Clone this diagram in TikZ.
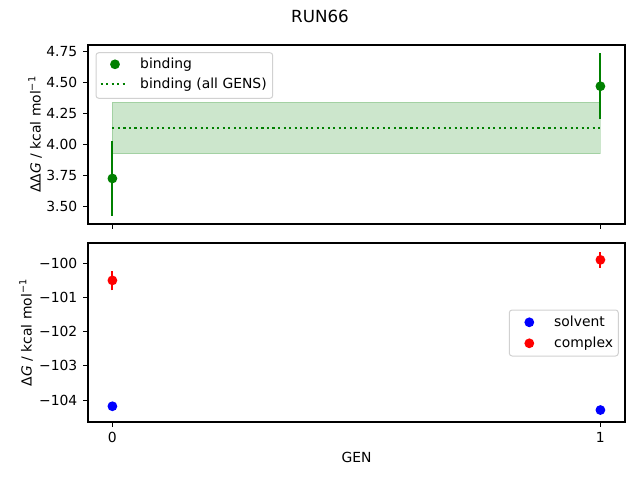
\documentclass[tikz,border=0pt]{standalone}
\usepackage{fontspec}
\setmainfont{DejaVu Sans}
\definecolor{mplgreen}{HTML}{008000}
\definecolor{mplred}{HTML}{FF0000}
\definecolor{mplblue}{HTML}{0000FF}

\begin{document}
\begin{tikzpicture}[x=1pt, y=1pt,
	every node/.style={inner sep=0pt, font=\fontsize{13.9}{16}\selectfont},
	frame/.style={line width=1.11pt},
	tick/.style={line width=1.11pt},
	errbar/.style={line width=2.08pt},
	dot/.style={circle, inner sep=0pt, minimum size=9.8pt},
	legbox/.style={rounded corners=2.8pt, draw=black!18, fill=white, fill opacity=0.8, line width=1pt},
	dotline/.style={line width=2.08pt, dash pattern=on 2.08pt off 3.44pt}]
	\useasboundingbox (0,0) rectangle (640,480);

	% title
	\node[anchor=base, font=\fontsize{16.7}{19}\selectfont] (title) at (320,457) {RUN66};

	% top panel: binding
	\begin{scope}[shift={(112.4pt,-160.5pt)}, x=488pt, y=124pt]
		\fill[mplgreen, opacity=0.2] (0,3.925) rectangle (1,4.34);
		\draw[mplgreen, opacity=0.2, line width=1pt] (0,3.925) rectangle (1,4.34);
		\coordinate (allL) at (0,4.13);
		\coordinate (allR) at (1,4.13);
		\draw[mplgreen, dotline] (allL) -- (allR);
		\coordinate (b0lo) at (0,3.426);
		\coordinate (b0hi) at (0,4.026);
		\coordinate (b1lo) at (1,4.205);
		\coordinate (b1hi) at (1,4.735);
		\draw[mplgreen, errbar] (b0lo) -- (b0hi);
		\draw[mplgreen, errbar] (b1lo) -- (b1hi);
		\node[dot, fill=mplgreen] (b0) at (0,3.726) {};
		\node[dot, fill=mplgreen] (b1) at (1,4.47) {};
		\foreach \v in {3.50,3.75,4.00,4.25,4.50,4.75} {
			\draw[tick] (-0.05,\v) -- ++(-4.86pt,0);
			\node[anchor=east] (yt\v) at ([xshift=-10.5pt]-0.05,\v) {\v};
		}
		\foreach \g in {0,1}
			\draw[tick] (\g,3.3589) -- ++(0,-4.86pt);
	\end{scope}
	\draw[frame] (88,256) rectangle (625,435);
	\node[rotate=90, anchor=south] (ylabA) at (42,345.5) {ΔΔ\textit{G} / kcal mol\textsuperscript{−1}};

	% top legend
	\draw[legbox] (96,381.7) rectangle (272.7,427.3);
	\node[dot, fill=mplgreen] (legb) at (115,415.7) {};
	\coordinate (legaL) at (100.5,395.7);
	\coordinate (legaR) at (128,395.7);
	\draw[mplgreen, dotline] (legaL) -- (legaR);
	\node[anchor=base west] (legbt) at (140,411.7) {binding};
	\node[anchor=base west] (legat) at (140,391.7) {binding (all GENS)};

	% bottom panel: solvent / complex
	\begin{scope}[shift={(112.4pt,216.7pt)}, x=488pt, y=34.2pt]
		\coordinate (c0lo) at (0,-0.79);
		\coordinate (c0hi) at (0,-0.22);
		\coordinate (c1lo) at (1,-0.13);
		\coordinate (c1hi) at (1,0.32);
		\draw[mplred, errbar] (c0lo) -- (c0hi);
		\draw[mplred, errbar] (c1lo) -- (c1hi);
		\node[dot, fill=mplred] (c0) at (0,-0.50) {};
		\node[dot, fill=mplred] (c1) at (1,0.10) {};
		\node[dot, fill=mplblue] (s0) at (0,-4.18) {};
		\node[dot, fill=mplblue] (s1) at (1,-4.29) {};
		\foreach \v/\t in {0/100,-1/101,-2/102,-3/103,-4/104} {
			\draw[tick] (-0.05,\v) -- ++(-4.86pt,0);
			\node[anchor=east] (ytb\t) at ([xshift=-10.5pt]-0.05,\v) {−\t};
		}
		\foreach \g in {0,1} {
			\draw[tick] (\g,-4.64) -- ++(0,-4.86pt);
			\node[anchor=base] (xt\g) at ([yshift=-20.2pt]\g,-4.64) {\g};
		}
	\end{scope}
	\draw[frame] (88,58) rectangle (625,237);
	\node[rotate=90, anchor=south] (ylabB) at (33,147.5) {Δ\textit{G} / kcal mol\textsuperscript{−1}};
	\node[anchor=base] (xlab) at (356.5,17.7) {GEN};

	% bottom legend
	\draw[legbox] (509.3,124) rectangle (618.3,170);
	\node[dot, fill=mplblue] (legs) at (529.3,157.7) {};
	\node[dot, fill=mplred] (legc) at (529.3,136.7) {};
	\node[anchor=base west] (legst) at (554,153.7) {solvent};
	\node[anchor=base west] (legct) at (554,132.7) {complex};
\end{tikzpicture}
\end{document}
